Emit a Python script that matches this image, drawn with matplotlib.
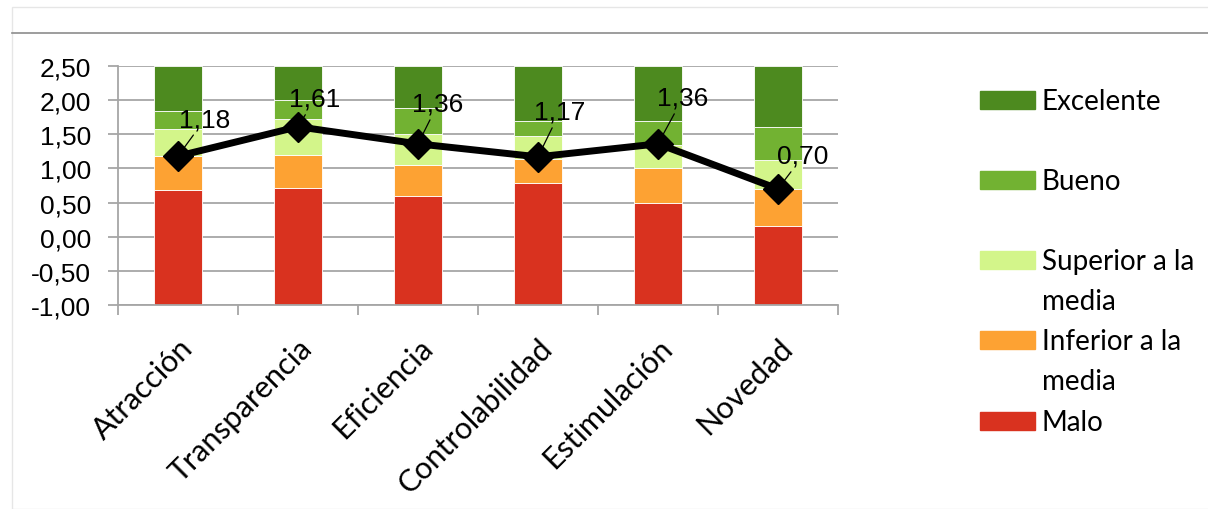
import numpy as np
import matplotlib.pyplot as plt
from matplotlib.patches import Rectangle
from matplotlib.lines import Line2D
from matplotlib.ticker import FuncFormatter, FixedLocator

categories = ['Atracción', 'Transparencia', 'Eficiencia', 'Controlabilidad', 'Estimulación', 'Novedad']
# upper limits of each benchmark band (Malo, Inferior, Superior, Bueno); Excelente goes to the top
limit_malo = [0.69, 0.72, 0.60, 0.78, 0.50, 0.16]
limit_inferior = [1.18, 1.20, 1.05, 1.14, 1.00, 0.70]
limit_superior = [1.58, 1.73, 1.50, 1.48, 1.35, 1.12]
limit_bueno = [1.84, 2.00, 1.88, 1.70, 1.70, 1.60]
axis_min = -1.0
axis_max = 2.5
means = [1.18, 1.61, 1.36, 1.17, 1.36, 0.70]

band_names = ['Malo', 'Inferior a la\nmedia', 'Superior a la\nmedia', 'Bueno', 'Excelente']
band_colors = ['#d9321f', '#fda233', '#d3f58a', '#72b232', '#4d8a1f']

W, H = 1208, 510
fig = plt.figure(figsize=(W / 100, H / 100), dpi=100)

# outer frame and top rule
fig.add_artist(Rectangle((12 / W, 0), 1.2, (H - 8) / H, transform=fig.transFigure,
                         fill=False, ec='#e6e6e6', lw=1))
fig.add_artist(Line2D([12 / W, 1], [1 - 34 / H, 1 - 34 / H], transform=fig.transFigure,
                      color='#8c8c8c', lw=1.2))

ax = fig.add_axes([118 / W, 1 - 306 / H, 720 / W, (306 - 67) / H])

x = np.arange(len(categories))
edges = [[axis_min] * len(categories), limit_malo, limit_inferior, limit_superior, limit_bueno,
         [axis_max] * len(categories)]
for i in range(5):
    lo = np.array(edges[i])
    hi = np.array(edges[i + 1])
    ax.bar(x, hi - lo, bottom=lo, width=0.4, color=band_colors[i], edgecolor='white',
           linewidth=0.6, zorder=2)

ax.plot(x, means, color='black', lw=5, marker='D', ms=15, zorder=4, solid_joinstyle='miter')

label_offsets = [(27, 37), (17, 28), (20, 40), (22, 45), (25, 46), (25, 33)]
for xi, m, (dx, dy) in zip(x, means, label_offsets):
    ax.annotate(('%.2f' % m).replace('.', ','), xy=(xi, m), xytext=(dx, dy),
                textcoords='offset pixels', ha='center', va='center', fontsize=19,
                family='Liberation Sans', zorder=5,
                arrowprops=dict(arrowstyle='-', color='black', lw=0.9, shrinkA=1, shrinkB=6))

ax.set_xlim(-0.5, len(categories) - 0.5)
ax.set_ylim(axis_min, axis_max)
ax.set_yticks(np.arange(-1.0, 2.51, 0.5))
ax.yaxis.set_major_formatter(FuncFormatter(lambda v, p: ('%.2f' % v).replace('.', ',')))
ax.grid(axis='y', color='#a6a6a6', lw=1.3, zorder=0)
ax.set_axisbelow(True)

ax.set_xticks(x)
ax.set_xticklabels(categories, rotation=45, ha='right', va='top', rotation_mode='anchor',
                   fontsize=22, family='Lato')
ax.tick_params(axis='x', length=0, pad=20)
ax.xaxis.set_minor_locator(FixedLocator(np.arange(-0.5, len(categories), 1.0)))
ax.tick_params(axis='x', which='minor', length=7.2, color='#a6a6a6', width=1.3)
ax.tick_params(axis='y', length=7.2, color='#a6a6a6', width=1.3, labelsize=19, pad=12)
for lab in ax.get_yticklabels():
    lab.set_family('Liberation Sans')

for s in ['top', 'right']:
    ax.spines[s].set_visible(False)
ax.spines['left'].set_color('#a6a6a6')
ax.spines['bottom'].set_color('#a6a6a6')
ax.spines['left'].set_linewidth(1.3)
ax.spines['bottom'].set_linewidth(1.3)

# legend drawn like the spreadsheet one: patch next to the first text line
legend_rows = [101, 181, 261, 341, 422]
for name, color, yy in zip(band_names[::-1], band_colors[::-1], legend_rows):
    fig.add_artist(Rectangle((980 / W, 1 - (yy + 9) / H), 55 / W, 18 / H,
                             transform=fig.transFigure, color=color))
    for k, part in enumerate(name.split('\n')):
        fig.text(1042 / W, 1 - (yy + 9 + 40 * k) / H, part, ha='left', va='baseline',
                 fontsize=20, family='Lato')

fig.savefig('out.png', dpi=100)
